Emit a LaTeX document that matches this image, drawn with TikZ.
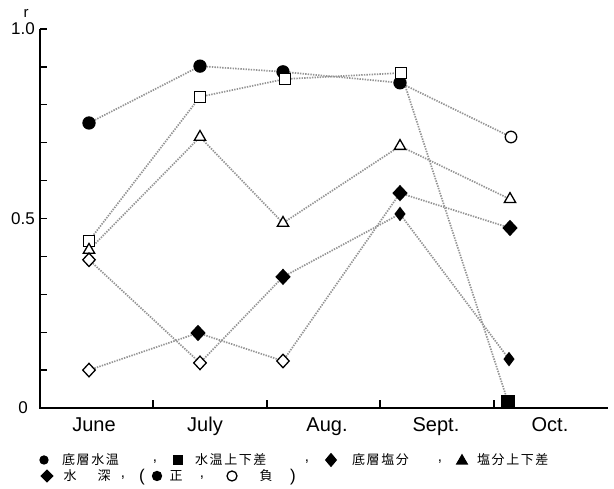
\documentclass[tikz,border=0pt]{standalone}
\usepackage{fontspec}
\setmainfont{Liberation Sans}
\newfontfamily\jpfont{Noto Sans CJK JP}[LetterSpace=12]
\usetikzlibrary{shapes.geometric,backgrounds}

\tikzset{
  mk/.style={inner sep=0pt, draw=black, line width=1.3pt},
  fcirc/.style={mk, circle, fill=black, minimum size=12pt},
  ocirc/.style={mk, circle, fill=white, minimum size=11.5pt},
  osq/.style={mk, rectangle, fill=white, minimum size=11pt},
  fsq/.style={mk, rectangle, fill=black, minimum size=12pt},
  otri/.style={mk, regular polygon, regular polygon sides=3, fill=white, minimum size=13pt},
  ftri/.style={mk, regular polygon, regular polygon sides=3, fill=black, minimum size=12pt},
  odia/.style={mk, diamond, fill=white, minimum width=13pt, minimum height=14pt},
  fdia/.style={mk, diamond, fill=black, minimum width=14pt, minimum height=15pt},
  sdia/.style={mk, diamond, fill=black, minimum width=10pt, minimum height=13pt},
  link/.style={black!42, line width=1.7pt, dash pattern=on 1.4pt off 1.2pt},
  num/.style={font=\fontsize{17}{17}\selectfont, inner sep=0pt, anchor=east},
  month/.style={font=\fontsize{20}{20}\selectfont, inner sep=0pt, anchor=base},
  jtext/.style={font=\jpfont\fontsize{13}{13}\selectfont, inner sep=0pt},
  punct/.style={font=\fontsize{15}{15}\selectfont, inner sep=0pt},
}

\begin{document}
\begin{tikzpicture}[x=1pt,y=1pt]
  \useasboundingbox (0,0) rectangle (614,489);

  \begin{scope}[shift={(40,81)}, y=379pt]
    % assi e tacche
    \draw[line width=1.7pt] (0,1) -- (0,0) -- (568,0);
    \foreach \t in {0.1,0.2,...,1.0}
      \draw[line width=1.3pt] (0,\t) -- ++(7,0);
    \foreach \m in {113,227,340,454}
      \draw[line width=1.3pt] (\m,0) -- ++(0,0.02);
    \node[num] (y10) at (-5,1) {1.0};
    \node[num] (y05) at (-5,0.5) {0.5};
    \node[num] (y00) at (-12,0) {0};
    \node[font=\fontsize{15}{15}\selectfont, inner sep=0pt] (rlab) at (-14,1.04) {r};

    % mesi
    \node[month] (jun) at (54,-0.061) {June};
    \node[month] (jul) at (165,-0.061) {July};
    \node[month] (aug) at (287,-0.061) {Aug.};
    \node[month] (sep) at (396,-0.061) {Sept.};
    \node[month] (oct) at (510,-0.061) {Oct.};

    % temperatura dell'acqua sul fondo
    \node[fcirc] (bt1) at (49,0.752) {};
    \node[fcirc] (bt2) at (160,0.902) {};
    \node[fcirc] (bt3) at (243,0.887) {};
    \node[fcirc] (bt4) at (360,0.858) {};
    \node[ocirc] (bt5) at (471,0.715) {};

    % differenza di temperatura
    \node[osq] (dt1) at (49,0.441) {};
    \node[osq] (dt2) at (160,0.821) {};
    \node[osq] (dt3) at (245,0.868) {};
    \node[osq] (dt4) at (361,0.884) {};
    \node[fsq] (dt5) at (468,0.016) {};

    % differenza di salinita
    \node[otri] (ds1) at (49,0.417) {};
    \node[otri] (ds2) at (160,0.715) {};
    \node[otri] (ds3) at (243,0.488) {};
    \node[otri] (ds4) at (360,0.691) {};
    \node[otri] (ds5) at (470,0.551) {};

    % salinita sul fondo
    \node[odia] (bs1) at (49,0.391) {};
    \node[odia] (bs2) at (160,0.119) {};
    \node[fdia] (bs3) at (243,0.346) {};
    \node[sdia] (bs4) at (360,0.512) {};
    \node[sdia] (bs5) at (469,0.129) {};

    % profondita
    \node[odia] (wd1) at (49,0.100) {};
    \node[fdia] (wd2) at (158,0.198) {};
    \node[odia] (wd3) at (243,0.124) {};
    \node[fdia] (wd4) at (360,0.567) {};
    \node[fdia] (wd5) at (470,0.475) {};

    % linee punteggiate
    \begin{scope}[on background layer]
      \foreach \s in {bt,dt,ds,bs,wd}
        \draw[link] (\s1) -- (\s2) -- (\s3) -- (\s4) -- (\s5);
    \end{scope}
  \end{scope}

  % legenda, prima riga
  \node[fcirc, minimum size=8pt] (lbt) at (44,29) {};
  \node[jtext, anchor=west] (tbt) at (62,29) {底層水温};
  \node[punct] (c1) at (155,27) {,};
  \node[fsq, minimum size=8pt] (ldt) at (178,29) {};
  \node[jtext, anchor=west] (tdt) at (195,29) {水温上下差};
  \node[punct] (c2) at (307,27) {,};
  \node[sdia, minimum width=11pt, minimum height=13pt] (lbs) at (331,29) {};
  \node[jtext, anchor=west] (tbs) at (352,29) {底層塩分};
  \node[punct] (c3) at (440,27) {,};
  \node[ftri, minimum size=12pt] (lds) at (462,28) {};
  \node[jtext, anchor=west] (tds) at (477,29) {塩分上下差};

  % legenda, seconda riga
  \node[fdia, minimum width=12pt, minimum height=12pt] (lwd) at (47,13) {};
  \node[jtext] (tw1) at (70,13) {水};
  \node[jtext] (tw2) at (104,13) {深};
  \node[punct] (c4) at (123,11) {,};
  \node[punct, font=\fontsize{17}{17}\selectfont] (pl) at (142,12) {(};
  \node[fcirc, minimum size=9pt] (lpos) at (157,13) {};
  \node[jtext] (tpos) at (176,13) {正};
  \node[punct] (c5) at (202,11) {,};
  \node[ocirc, minimum size=10pt] (lneg) at (232,13) {};
  \node[jtext] (tneg) at (266,13) {負};
  \node[punct, font=\fontsize{17}{17}\selectfont] (pr) at (293,12) {)};
\end{tikzpicture}
\end{document}
